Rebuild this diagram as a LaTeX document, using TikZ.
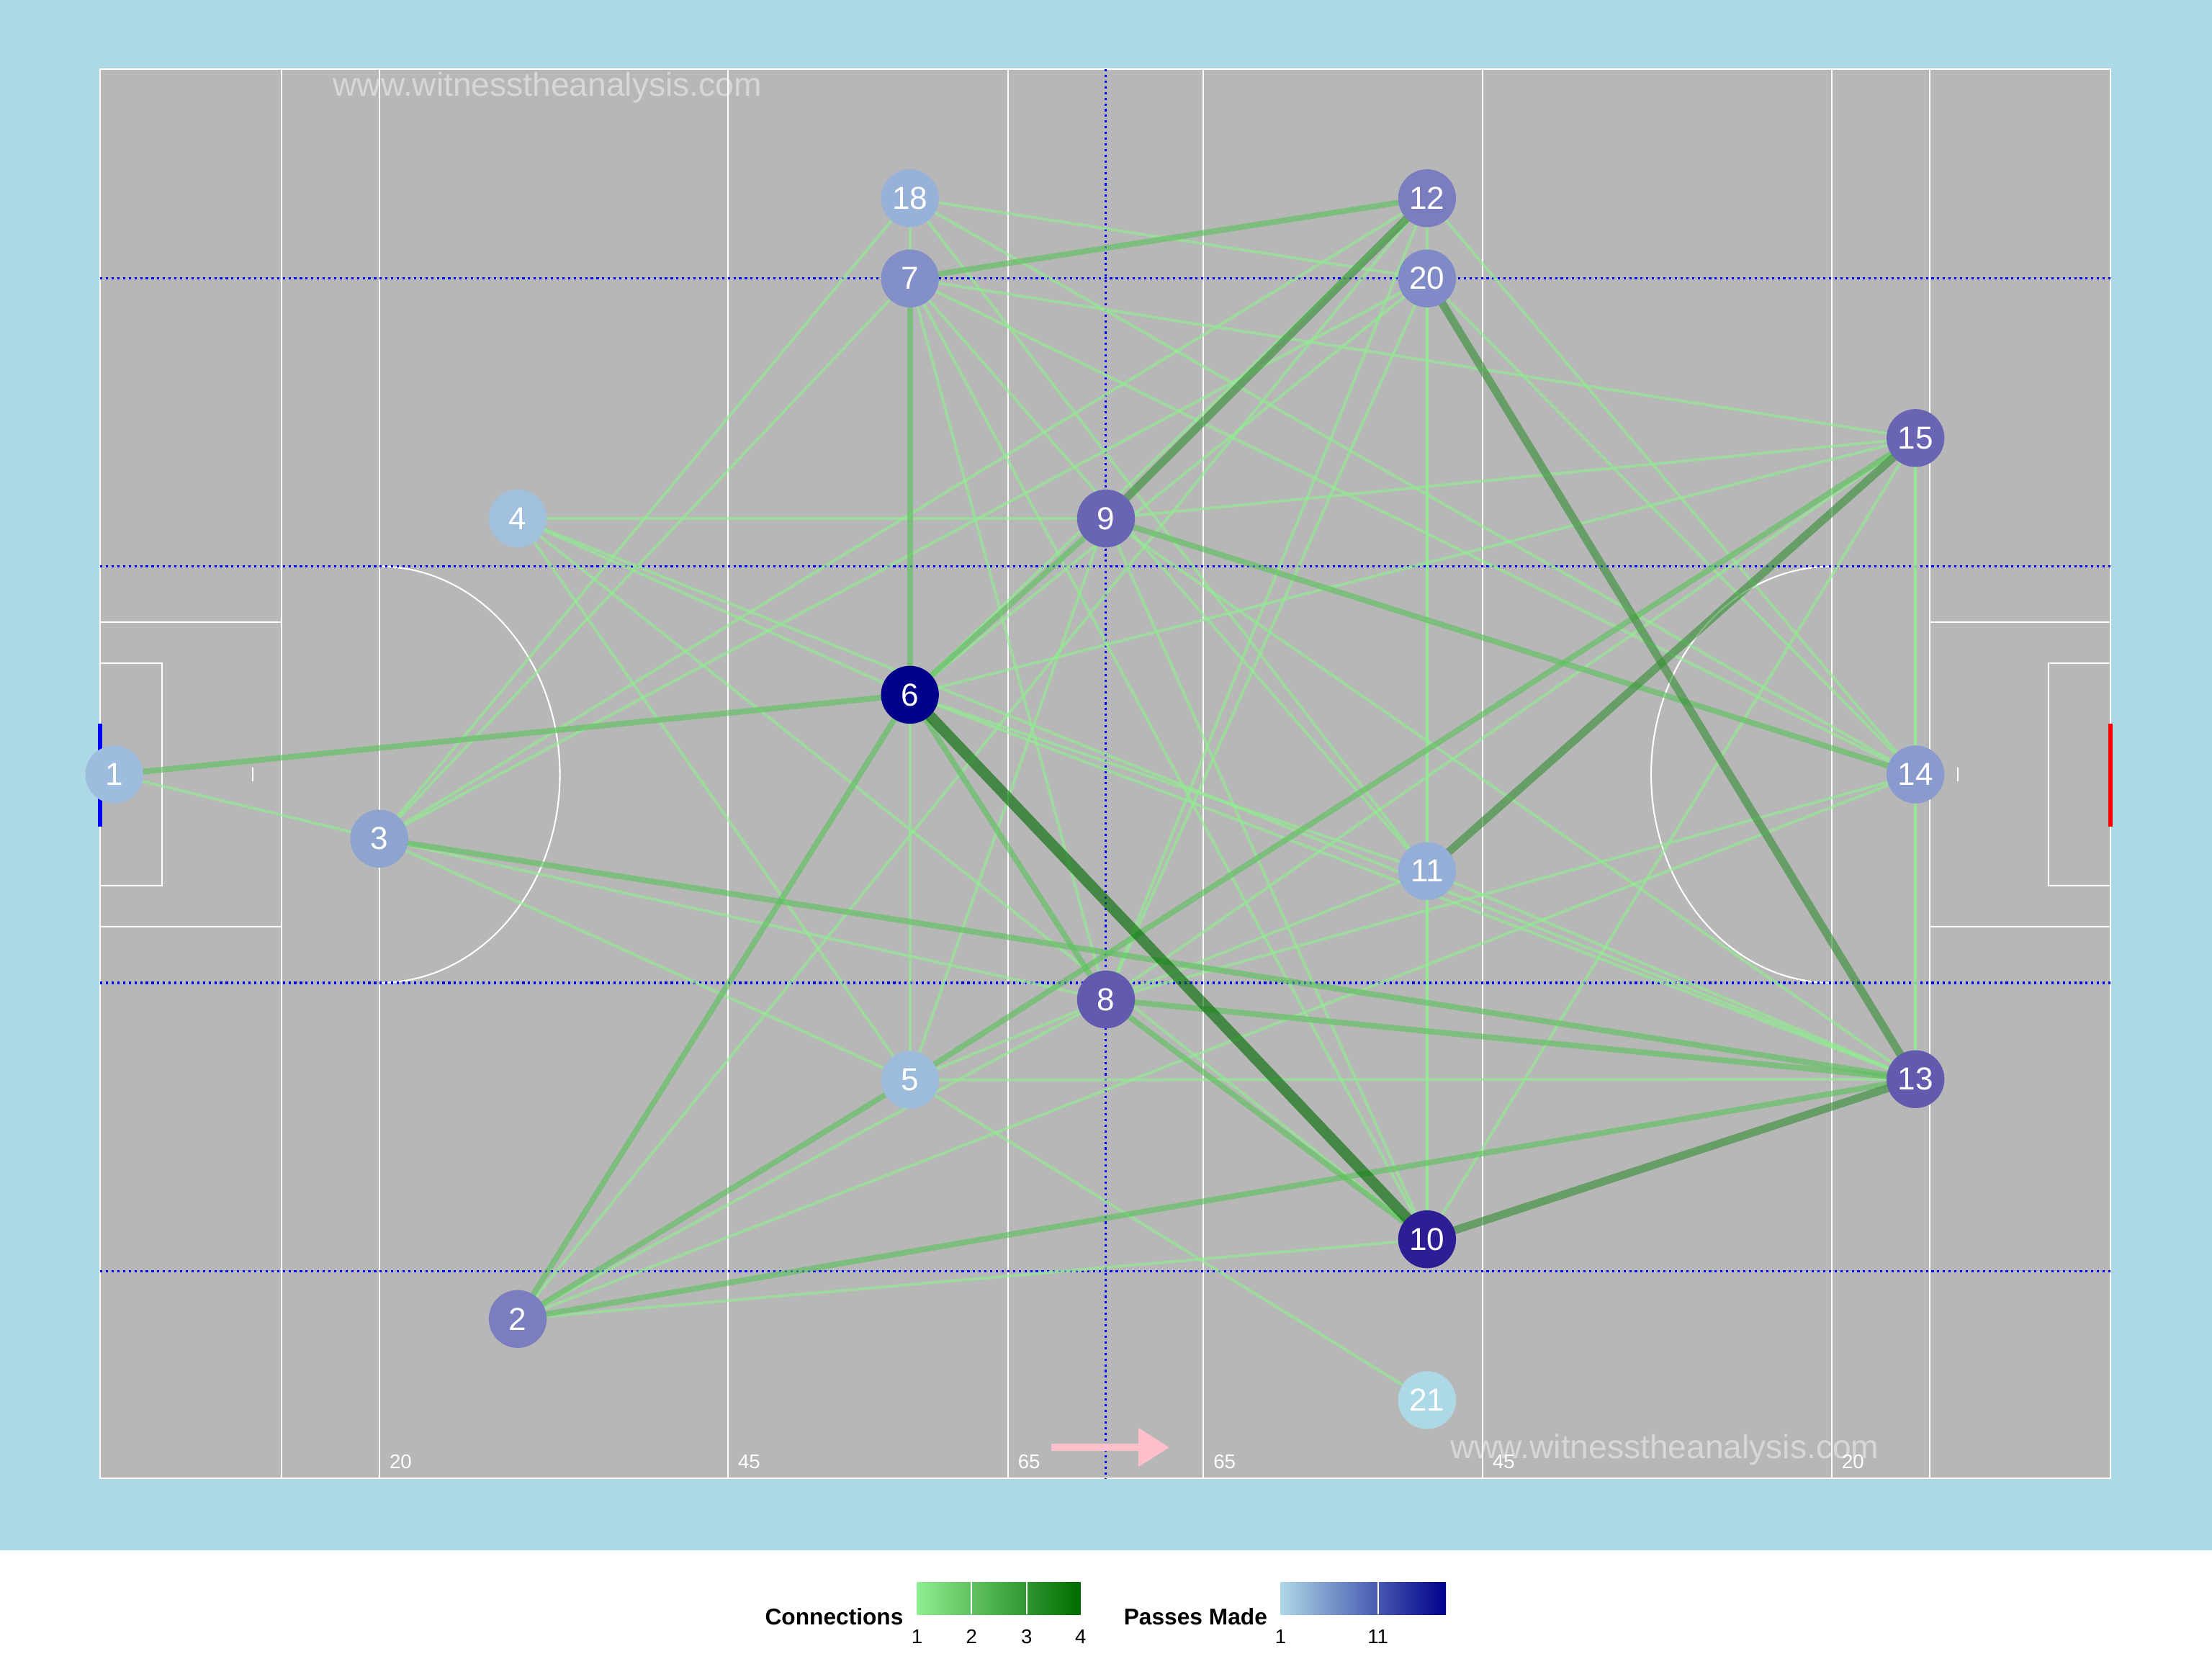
\documentclass[tikz,border=0pt]{standalone}
\usepackage{fontspec}
\setmainfont{Liberation Sans}
\usetikzlibrary{arrows.meta}
\pgfdeclarelayer{bg}
\pgfdeclarelayer{edgelayer}
\pgfsetlayers{bg,edgelayer,main}
\definecolor{bgblue}{HTML}{ADD8E6}
\definecolor{pitchgray}{HTML}{B7B7B7}
\definecolor{ga}{RGB}{144,238,144}
\definecolor{gb}{RGB}{90,194,90}
\definecolor{gc}{RGB}{54,144,54}
\definecolor{gd}{RGB}{0,107,0}
\definecolor{arrowpink}{HTML}{FFC0CB}
\definecolor{c1}{RGB}{157,188,222}
\definecolor{c2}{RGB}{122,126,192}
\definecolor{c3}{RGB}{142,164,208}
\definecolor{c4}{RGB}{160,192,222}
\definecolor{c5}{RGB}{157,188,219}
\definecolor{c6}{RGB}{0,0,139}
\definecolor{c7}{RGB}{130,143,200}
\definecolor{c8}{RGB}{98,90,175}
\definecolor{c9}{RGB}{105,101,180}
\definecolor{c10}{RGB}{46,30,150}
\definecolor{c11}{RGB}{149,174,216}
\definecolor{c12}{RGB}{122,126,192}
\definecolor{c13}{RGB}{98,90,175}
\definecolor{c14}{RGB}{137,155,206}
\definecolor{c15}{RGB}{106,100,181}
\definecolor{c18}{RGB}{151,177,217}
\definecolor{c20}{RGB}{128,138,198}
\definecolor{c21}{RGB}{173,216,230}
\begin{document}
\begin{tikzpicture}[x=0.01cm,y=-0.01cm,
  pline/.style={draw=white,line width=0.3pt},
  dotl/.style={blue,line width=0.45pt,dash pattern=on 0.45pt off 0.7pt},
  ea/.style={draw=ga,line width=0.58pt,draw opacity=0.62},
  eb/.style={draw=gb,line width=1.15pt,draw opacity=0.62},
  ec/.style={draw=gc,line width=1.6pt,draw opacity=0.62},
  ed/.style={draw=gd,line width=2.2pt,draw opacity=0.62},
  pl/.style={circle,inner sep=0pt,minimum size=0.41cm,text=white,font=\fontsize{6.4}{7}\selectfont},
  dist/.style={text=white,font=\fontsize{4}{5}\selectfont,inner sep=0pt},
  wm/.style={text=white,text opacity=0.45,font=\fontsize{6.7}{8}\selectfont,inner sep=0pt},
  legt/.style={font=\bfseries\fontsize{4.6}{5.5}\selectfont,inner sep=0pt,anchor=east},
  legn/.style={font=\fontsize{4}{5}\selectfont,inner sep=0pt}
]
\useasboundingbox (0,0) rectangle (1568,1176);
\begin{pgfonlayer}{bg}
\fill[white] (0,0) rectangle (1568,1176);
\fill[bgblue] (0,0) rectangle (1568,1099);
% pitch
\fill[pitchgray] (71,49) rectangle (1496,1048);
\draw[pline] (71,49) rectangle (1496,1048);
\foreach \xx in {199.5,268.8,516,714.5,853,1051,1298.5,1368}
  \draw[pline] (\xx,49) -- (\xx,1048);
\draw[pline] (71,441) rectangle (199.5,657);
\draw[pline] (71,470) rectangle (115,628);
\draw[pline] (1368,441) rectangle (1496,657);
\draw[pline] (1452,470) rectangle (1496,628);
\draw[pline] (268.8,401.5) arc[start angle=90,end angle=-90,x radius=1.28cm,y radius=1.475cm];
\draw[pline] (1298.5,401.5) arc[start angle=90,end angle=270,x radius=1.28cm,y radius=1.475cm];
\draw[pline] (179,544) -- (179,554);
\draw[pline] (1388,544) -- (1388,554);
\foreach \yy in {197.4,401.5,696.7,901.2}
  \draw[dotl] (71,\yy) -- (1496,\yy);
\draw[dotl] (783.7,49) -- (783.7,1048);
\draw[blue,line width=0.9pt] (71,513) -- (71,586);
\draw[red,line width=0.9pt] (1496,513) -- (1496,586);
\end{pgfonlayer}
% distance labels
\node[dist] (d1) at (284,1036) {20};
\node[dist] (d2) at (531,1036) {45};
\node[dist] (d3) at (729.5,1036) {65};
\node[dist] (d4) at (868,1036) {65};
\node[dist] (d5) at (1066,1036) {45};
\node[dist] (d6) at (1313.5,1036) {20};
% direction arrow
\coordinate (as) at (745,1026);
\coordinate (ae) at (829,1026);
\draw[arrowpink,line width=1.5pt,-{Triangle[length=2.2mm,width=2.6mm]}] (as) -- (ae);
% watermarks
\node[wm] (wm1) at (388,62) {www.witnesstheanalysis.com};
% nodes
\node[pl,fill=c1] (n1) at (81,549) {1};
\node[pl,fill=c2] (n2) at (367,935) {2};
\node[pl,fill=c3] (n3) at (268.8,594.5) {3};
\node[pl,fill=c4] (n4) at (367,367.5) {4};
\node[pl,fill=c5] (n5) at (645,765.5) {5};
\node[pl,fill=c6] (n6) at (645,492.5) {6};
\node[pl,fill=c7] (n7) at (645,197.4) {7};
\node[pl,fill=c8] (n8) at (784,708.5) {8};
\node[pl,fill=c9] (n9) at (784,367.5) {9};
\node[pl,fill=c10] (n10) at (1011.6,878.5) {10};
\node[pl,fill=c11] (n11) at (1011.6,617.5) {11};
\node[pl,fill=c12] (n12) at (1011.6,140.5) {12};
\node[pl,fill=c13] (n13) at (1357.8,765) {13};
\node[pl,fill=c14] (n14) at (1357.8,549) {14};
\node[pl,fill=c15] (n15) at (1357.8,310.5) {15};
\node[pl,fill=c18] (n18) at (645,140.5) {18};
\node[pl,fill=c20] (n20) at (1011.6,197.4) {20};
\node[pl,fill=c21] (n21) at (1011.6,992.5) {21};
% edges
\begin{pgfonlayer}{edgelayer}
\foreach \a/\b in {1/3,18/7,18/20,18/14,18/11,18/3,7/15,7/14,7/3,7/8,7/10,7/11,
  12/6,12/3,12/8,12/20,12/14,12/2,20/3,20/6,20/8,20/14,20/11,11/10,20/10,
  6/4,6/15,6/5,6/11,6/13,4/9,4/13,4/10,4/5,9/15,9/5,9/10,9/13,3/8,3/5,
  8/5,8/15,8/11,8/14,2/8,2/14,2/10,5/13,5/21,10/15,15/14,14/13,15/13,11/13}
  \draw[ea] (n\a.center) -- (n\b.center);
\foreach \a/\b in {1/6,7/12,6/7,6/9,2/6,6/8,8/10,3/13,8/13,9/14,2/5,5/15,2/13}
  \draw[eb] (n\a.center) -- (n\b.center);
\foreach \a/\b in {20/13,12/9,11/15,10/13}
  \draw[ec] (n\a.center) -- (n\b.center);
\draw[ed] (n6.center) -- (n10.center);
\node[wm] (wm2) at (1180,1028) {www.witnesstheanalysis.com};
\end{pgfonlayer}
% legend
\node[legt] (lc) at (641,1146) {Connections};
\shade[left color=ga,middle color=gb!80!gc,right color=gd] (650,1121.5) rectangle (766,1144.5);
\foreach \xx in {688.7,727.8}
  \draw[white,line width=0.25pt] (\xx,1121.5) -- (\xx,1144.5);
\node[legn] (l1) at (650,1160) {1};
\node[legn] (l2) at (688.7,1160) {2};
\node[legn] (l3) at (727.8,1160) {3};
\node[legn] (l4) at (766,1160) {4};
\node[legt] (lp) at (899,1146) {Passes Made};
\shade[left color=c21,middle color=c12,right color=c6] (907.8,1121.5) rectangle (1025,1144.5);
\draw[white,line width=0.25pt] (976.8,1121.5) -- (976.8,1144.5);
\node[legn] (p1) at (907.8,1160) {1};
\node[legn] (p11) at (976.8,1160) {11};
\end{tikzpicture}
\end{document}
